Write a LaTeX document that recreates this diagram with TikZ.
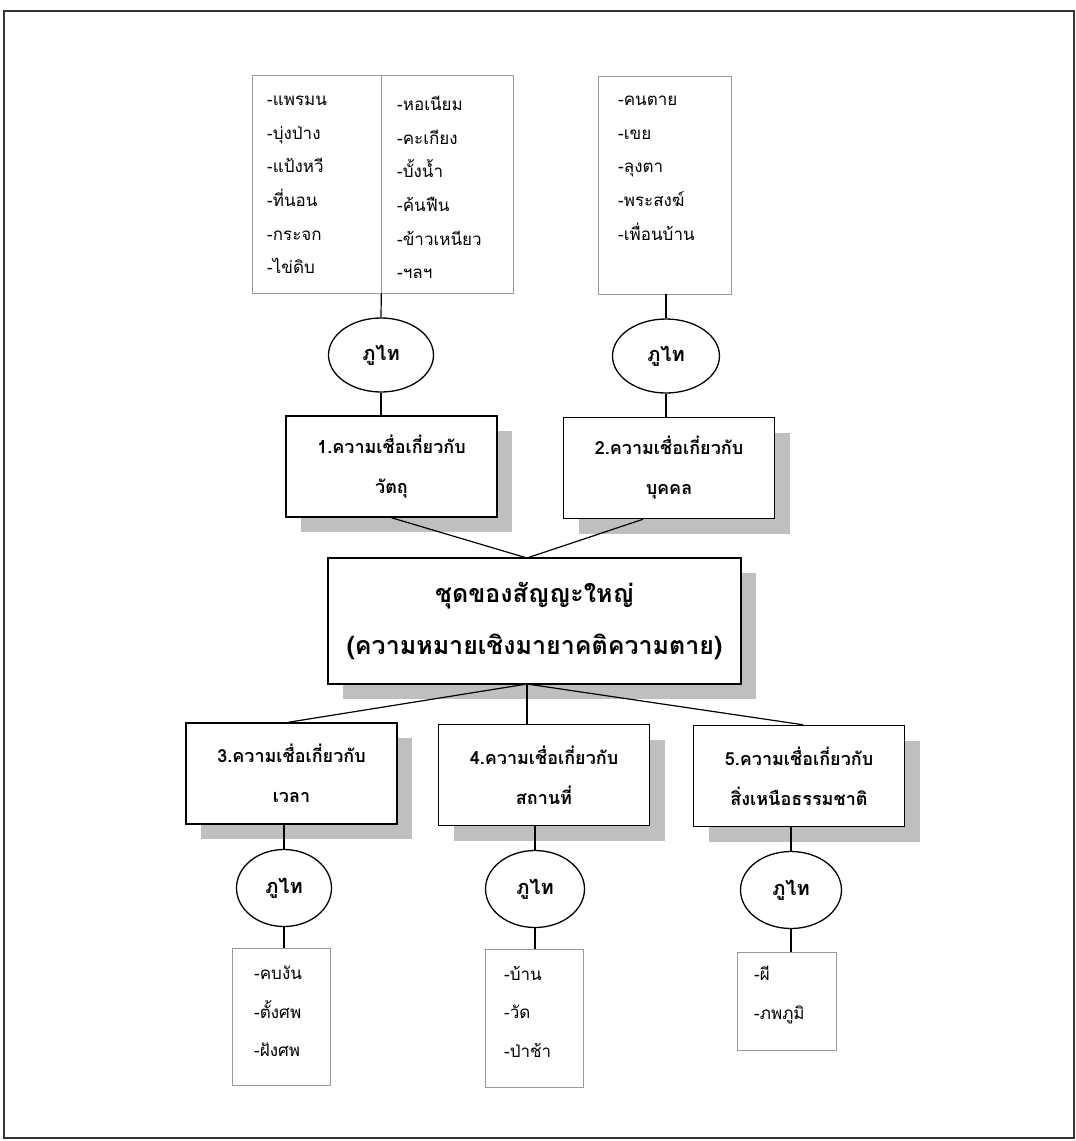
\documentclass[tikz,border=0pt]{standalone}
\usepackage{fontspec}
\usepackage{tikz}
\usetikzlibrary{shapes.geometric, shadows, positioning, calc}
\newfontfamily\thaifont[Script=Thai]{Loma}

\begin{document}
\begin{tikzpicture}[x=1pt, y=-1pt,
    khung/.style={draw, line width=1.5pt, fill=white, minimum width=211pt, minimum height=101pt,
        align=center, font=\thaifont\bfseries\fontsize{18}{40}\selectfont,
        drop shadow={shadow xshift=15pt, shadow yshift=-15pt, fill=black!25, opacity=1}},
    vongtron/.style={ellipse, draw, line width=1.3pt, fill=white, inner sep=0pt,
        font=\thaifont\bfseries\fontsize{20}{22}\selectfont},
    danhsach/.style={draw=black!40, line width=0.6pt, fill=white, inner sep=0pt},
    chu/.style={anchor=north west, align=left, inner sep=0pt,
        font=\thaifont\fontsize{17}{33.6}\selectfont},
    noi/.style={line width=1.2pt}]

            % Khung ngoài
            \useasboundingbox (0,0) rectangle (1076,1141);
            \draw[line width=1.5pt, black!80] (4,11) rectangle (1074,1138);

            % Hai ô danh sách phía trên
            \node[danhsach, minimum width=129pt, minimum height=218pt] (dsA1) at (316.5,184) {};
            \node[danhsach, minimum width=132pt, minimum height=218pt] (dsA2) at (447,184) {};
            \node[danhsach, minimum width=133pt, minimum height=218pt] (dsB) at (664.5,185) {};
            \node[chu] (chuA1) at (267,96) {-แพรมน\\-บุ่งป่าง\\-แป้งหวี\\-ที่นอน\\-กระจก\\-ไข่ดิบ};
            \node[chu] (chuA2) at (397,96) {-หอเนียม\\-คะเกียง\\-บั้งน้ำ\\-ค้นฟืน\\-ข้าวเหนียว\\-ฯลฯ};
            \node[chu] (chuB) at (618,96) {-คนตาย\\-เขย\\-ลุงตา\\-พระสงฆ์\\-เพื่อนบ้าน};

            % Hình elip phía trên
            \node[vongtron, minimum width=105pt, minimum height=74pt] (elA) at (381,355) {ภูไท};
            \node[vongtron, minimum width=107pt, minimum height=74pt] (elB) at (666,356) {ภูไท};

            % Ô 1 và ô 2
            \node[khung] (o1) at (391.5,466.5) {1.ความเชื่อเกี่ยวกับ\\วัตถุ};
            \node[khung] (o2) at (669,468) {2.ความเชื่อเกี่ยวกับ\\บุคคล};

            % Ô chính ở giữa
            \node[khung, minimum width=413pt, minimum height=126pt,
                font=\thaifont\bfseries\fontsize{25}{52}\selectfont] (chinh) at (534.5,621)
                {ชุดของสัญญะใหญ่\\(ความหมายเชิงมายาคติความตาย)};
            \coordinate (nutTren) at (527,558);
            \coordinate (nutDuoi) at (527,684);

            % Ba ô phía dưới
            \node[khung] (o3) at (291.5,773.5) {3.ความเชื่อเกี่ยวกับ\\เวลา};
            \node[khung] (o4) at (544,775) {4.ความเชื่อเกี่ยวกับ\\สถานที่};
            \node[khung] (o5) at (799,776) {5.ความเชื่อเกี่ยวกับ\\สิ่งเหนือธรรมชาติ};

            % Hình elip phía dưới
            \node[vongtron, minimum width=95pt, minimum height=77pt] (el3) at (284,888) {ภูไท};
            \node[vongtron, minimum width=99pt, minimum height=77pt] (el4) at (535,889) {ภูไท};
            \node[vongtron, minimum width=101pt, minimum height=77pt] (el5) at (791,890) {ภูไท};

            % Ô danh sách phía dưới
            \node[danhsach, minimum width=98pt, minimum height=137pt] (dsC) at (281,1016.5) {};
            \node[danhsach, minimum width=98pt, minimum height=138pt] (dsD) at (534,1018) {};
            \node[danhsach, minimum width=99pt, minimum height=98pt] (dsE) at (786.5,1001) {};
            \node[chu, font=\thaifont\fontsize{17}{38.5}\selectfont] (chuC) at (254,966) {-คบงัน\\-ตั้งศพ\\-ฝังศพ};
            \node[chu, font=\thaifont\fontsize{17}{38.5}\selectfont] (chuD) at (504,966) {-บ้าน\\-วัด\\-ป่าช้า};
            \node[chu, font=\thaifont\fontsize{17}{38.5}\selectfont] (chuE) at (754,966) {-ผี\\-ภพภูมิ};

            % Đường nối phía trên
            \draw[noi] (dsA1.south east) -- (elA.north);
            \draw[noi] (elA.south) -- (elA.south |- o1.north);
            \draw[noi] (dsB.south -| elB.north) -- (elB.north);
            \draw[noi] (elB.south) -- (elB.south |- o2.north);
            \draw[noi] (o1.south) -- (nutTren);
            \draw[noi] ($(o2.south)+(-26,0)$) -- (nutTren);

            % Đường nối phía dưới
            \draw[noi] (nutDuoi) -- ($(o3.north)+(-3,0)$);
            \draw[noi] (nutDuoi) -- (nutDuoi |- o4.north);
            \draw[noi] (nutDuoi) -- ($(o5.north)+(4,0)$);
            \draw[noi] (el3.north |- o3.south) -- (el3.north);
            \draw[noi] (el4.north |- o4.south) -- (el4.north);
            \draw[noi] (el5.north |- o5.south) -- (el5.north);
            \draw[noi] (el3.south) -- (el3.south |- dsC.north);
            \draw[noi] (el4.south) -- (el4.south |- dsD.north);
            \draw[noi] (el5.south) -- (el5.south |- dsE.north);

            \end{tikzpicture}
\end{document}
